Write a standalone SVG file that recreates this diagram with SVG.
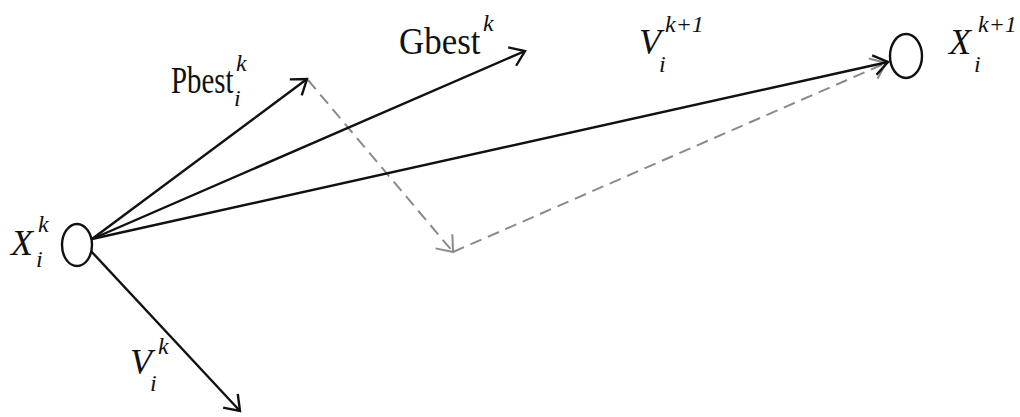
<svg xmlns="http://www.w3.org/2000/svg" width="1020" height="417" viewBox="0 0 1020 417">
<style>
.v{stroke:#111;stroke-width:2.4;fill:none}
.d{stroke:#8a8a8a;stroke-width:2;fill:none;stroke-dasharray:12 7}
.n{stroke:#111;stroke-width:2.4;fill:#fff}
.t{font-family:"Liberation Serif",serif;fill:#111}
.it{font-style:italic}
</style>
<defs>
<marker id="a" markerUnits="userSpaceOnUse" markerWidth="30" markerHeight="30" refX="0" refY="0" viewBox="-20 -15 30 30" orient="auto">
<path d="M-14,-10 L0,0 L-14,10" stroke="#111" stroke-width="2.4" fill="none"/>
</marker>
<marker id="g" markerUnits="userSpaceOnUse" markerWidth="30" markerHeight="30" refX="0" refY="0" viewBox="-20 -15 30 30" orient="auto">
<path d="M-14,-11 L0,0 L-14,11" stroke="#8a8a8a" stroke-width="2" fill="none"/>
</marker>
</defs>
<g id="connectors">
<line class="d" x1="308" y1="80" x2="453" y2="252" marker-end="url(#g)"/>
<line class="d" x1="453" y1="252" x2="886" y2="63" marker-end="url(#g)"/>
<line class="v" x1="92" y1="239" x2="307" y2="79" marker-end="url(#a)"/>
<line class="v" x1="92" y1="239" x2="525" y2="51" marker-end="url(#a)"/>
<line class="v" x1="92" y1="239" x2="888" y2="62" marker-end="url(#a)"/>
<line class="v" x1="90" y1="250" x2="240" y2="411" marker-end="url(#a)"/>
</g>
<g id="node-xk">
<ellipse class="n" cx="77" cy="245" rx="15" ry="21"/>
<text class="t it" x="11" y="255" font-size="36">X</text>
<text class="t it" x="38" y="232" font-size="24">k</text>
<text class="t it" x="36" y="267" font-size="24">i</text>
</g>
<g id="node-xk1">
<ellipse class="n" cx="906" cy="56" rx="16" ry="22"/>
<text class="t it" x="949" y="54" font-size="36">X</text>
<text class="t it" x="978" y="32" font-size="24">k+1</text>
<text class="t it" x="974" y="72" font-size="24">i</text>
</g>
<g id="label-pbest">
<text class="t" transform="translate(171,93) scale(0.76,1)" font-size="38">Pbest</text>
<text class="t it" x="236" y="71" font-size="24">k</text>
<text class="t it" x="234" y="106" font-size="24">i</text>
</g>
<g id="label-gbest">
<text class="t" transform="translate(399,54) scale(0.92,1)" font-size="38">Gbest</text>
<text class="t it" x="483" y="31" font-size="24">k</text>
</g>
<g id="label-vk1">
<text class="t it" x="639" y="54" font-size="36">V</text>
<text class="t it" x="665" y="32" font-size="24">k+1</text>
<text class="t it" x="659" y="72" font-size="24">i</text>
</g>
<g id="label-vk">
<text class="t it" x="130" y="374" font-size="36">V</text>
<text class="t it" x="158" y="354" font-size="24">k</text>
<text class="t it" x="150" y="391" font-size="24">i</text>
</g>
</svg>
